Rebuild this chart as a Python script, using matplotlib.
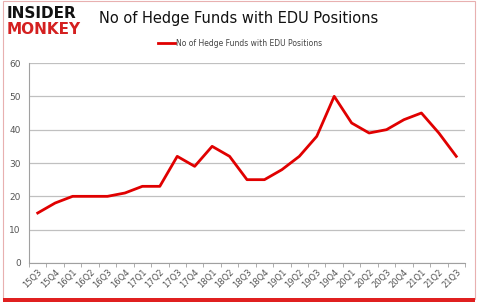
import matplotlib
matplotlib.use("Agg")
import matplotlib.pyplot as plt
from matplotlib.patches import Rectangle
import numpy as np

quarters = ["15Q3","15Q4","16Q1","16Q2","16Q3","16Q4","17Q1","17Q2","17Q3","17Q4",
            "18Q1","18Q2","18Q3","18Q4","19Q1","19Q2","19Q3","19Q4","20Q1","20Q2",
            "20Q3","20Q4","21Q1","21Q2","21Q3"]
funds = [15,18,20,20,20,21,23,23,32,29,35,32,25,25,28,32,38,50,42,39,40,43,45,39,32]
yticks = [0,10,20,30,40,50,60]
title = "No of Hedge Funds with EDU Positions"

fig = plt.figure(figsize=(4.8,3.05), dpi=100)
ax = fig.add_axes([29/480, (305-263)/305, (465-29)/480, 200/305])

x = np.arange(len(quarters))
ax.plot(x, funds, color="#e00000", lw=2.0, solid_joinstyle="round", label=title)
ax.set_xlim(-0.5, len(quarters)-0.5)
ax.set_ylim(0, 60)
ax.set_yticks(yticks)
ax.set_yticklabels([str(v) for v in yticks], fontsize=6.5, color="#555555")
ax.yaxis.grid(True, color="#c0c0c0", lw=0.9)
ax.set_axisbelow(True)
ax.tick_params(axis="y", length=0, pad=6)
ax.set_xticks(x)
ax.set_xticklabels(quarters, rotation=45, fontsize=6, color="#555555", ha="right", rotation_mode="anchor")
ax.set_xticks(np.arange(-0.5, len(quarters), 1), minor=True)
ax.tick_params(axis="x", which="major", length=0, pad=3)
ax.tick_params(axis="x", which="minor", length=3, color="#a0a0a0")
for s in ["top","right"]:
    ax.spines[s].set_visible(False)
ax.spines["left"].set_color("#a0a0a0")
ax.spines["bottom"].set_color("#a0a0a0")

fig.text(239/480, 1-18/305, title, fontsize=10.5, ha="center", va="center", color="#111111")
leg = ax.legend(loc="center", bbox_to_anchor=(240/480, 1-43/305), bbox_transform=fig.transFigure,
                frameon=False, fontsize=5.5, handlelength=2.2, handletextpad=0.1)
for t in leg.get_texts():
    t.set_color("#444444")

fig.text(7/480, 1-13/305, "INSIDER", fontsize=11, fontweight="heavy", color="#111111", va="center", ha="left")
fig.text(7/480, 1-30/305, "MONKEY", fontsize=11, fontweight="heavy", color="#d42020", va="center", ha="left")

fig.patches.append(Rectangle((3/480, 6/305), 472/480, 298/305, transform=fig.transFigure,
                             fill=False, edgecolor="#e8b0b0", lw=0.8))
fig.patches.append(Rectangle((3/480, 3/305), 472/480, 4/305, transform=fig.transFigure,
                             facecolor="#e02020", edgecolor="none"))

fig.savefig("out.png", dpi=100)
